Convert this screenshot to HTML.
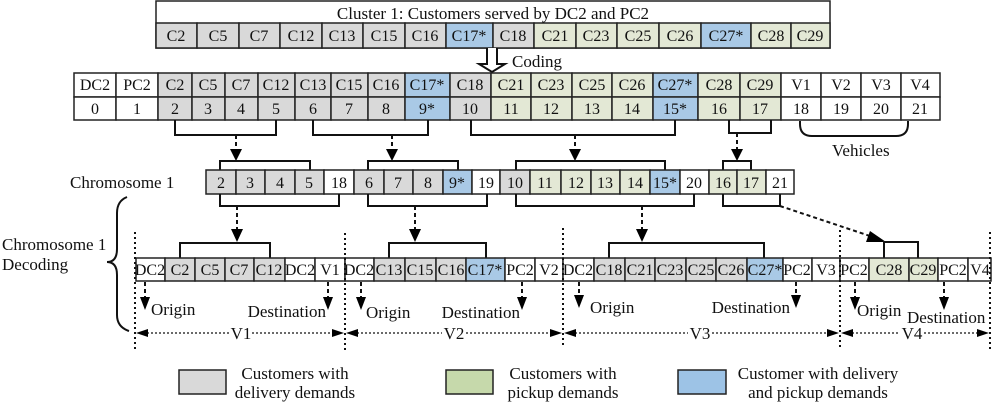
<!DOCTYPE html>
<html><head><meta charset="utf-8"><style>
html,body{margin:0;padding:0;background:#fff}
svg{display:block}
text{font-family:"Liberation Serif",serif;font-size:16px;fill:#111}
.c{text-anchor:middle}
.g{fill:#d9d9d9}.v{fill:#e3e8d5}.b{fill:#a9c9e6}.w{fill:#fff}
rect{stroke:#222;stroke-width:1.5}
.br{fill:none;stroke:#111;stroke-width:2}
.ds{stroke:#111;stroke-width:2;stroke-dasharray:4,3;fill:none}
.dt{stroke:#111;stroke-width:2;stroke-dasharray:2,3;fill:none}
.dm{stroke:#111;stroke-width:1.2;stroke-dasharray:2,2;fill:none}
.L{font-size:17px}
</style></head><body>
<svg width="992" height="406" viewBox="0 0 992 406" xmlns="http://www.w3.org/2000/svg">
<!-- top box -->
<rect class="w" x="156" y="1" width="674" height="47"/>
<text class="c L" x="493" y="19">Cluster 1: Customers served by DC2 and PC2</text>
<g>
<rect class="g" x="156" y="23" width="41" height="25"/><text class="c" x="176" y="41">C2</text>
<rect class="g" x="197" y="23" width="42" height="25"/><text class="c" x="218" y="41">C5</text>
<rect class="g" x="239" y="23" width="41" height="25"/><text class="c" x="259" y="41">C7</text>
<rect class="g" x="280" y="23" width="42" height="25"/><text class="c" x="301" y="41">C12</text>
<rect class="g" x="322" y="23" width="41" height="25"/><text class="c" x="342" y="41">C13</text>
<rect class="g" x="363" y="23" width="42" height="25"/><text class="c" x="384" y="41">C15</text>
<rect class="g" x="405" y="23" width="41" height="25"/><text class="c" x="425" y="41">C16</text>
<rect class="b" x="446" y="23" width="47" height="25"/><text class="c" x="469" y="41">C17*</text>
<rect class="g" x="493" y="23" width="41" height="25"/><text class="c" x="513" y="41">C18</text>
<rect class="v" x="534" y="23" width="42" height="25"/><text class="c" x="555" y="41">C21</text>
<rect class="v" x="576" y="23" width="41" height="25"/><text class="c" x="596" y="41">C23</text>
<rect class="v" x="617" y="23" width="42" height="25"/><text class="c" x="638" y="41">C25</text>
<rect class="v" x="659" y="23" width="42" height="25"/><text class="c" x="680" y="41">C26</text>
<rect class="b" x="701" y="23" width="50" height="25"/><text class="c" x="726" y="41">C27*</text>
<rect class="v" x="751" y="23" width="40" height="25"/><text class="c" x="771" y="41">C28</text>
<rect class="v" x="791" y="23" width="39" height="25"/><text class="c" x="810" y="41">C29</text>
</g>
<!-- open arrow -->
<path d="M487,48V64H479L492,72L505,64H497V48" fill="#fff" stroke="#111" stroke-width="2"/>
<text x="512" y="67" class="L">Coding</text>
<!-- row 2 -->
<g>
<rect class="w" x="74" y="73" width="42" height="24"/><text class="c" x="95" y="90">DC2</text>
<rect class="w" x="116" y="73" width="42" height="24"/><text class="c" x="137" y="90">PC2</text>
<rect class="g" x="158" y="73" width="34" height="24"/><text class="c" x="175" y="90">C2</text>
<rect class="g" x="192" y="73" width="33" height="24"/><text class="c" x="208" y="90">C5</text>
<rect class="g" x="225" y="73" width="33" height="24"/><text class="c" x="241" y="90">C7</text>
<rect class="g" x="258" y="73" width="37" height="24"/><text class="c" x="276" y="90">C12</text>
<rect class="g" x="295" y="73" width="36" height="24"/><text class="c" x="313" y="90">C13</text>
<rect class="g" x="331" y="73" width="37" height="24"/><text class="c" x="349" y="90">C15</text>
<rect class="g" x="368" y="73" width="37" height="24"/><text class="c" x="386" y="90">C16</text>
<rect class="b" x="405" y="73" width="45" height="24"/><text class="c" x="427" y="90">C17*</text>
<rect class="g" x="450" y="73" width="41" height="24"/><text class="c" x="470" y="90">C18</text>
<rect class="v" x="491" y="73" width="40" height="24"/><text class="c" x="511" y="90">C21</text>
<rect class="v" x="531" y="73" width="41" height="24"/><text class="c" x="551" y="90">C23</text>
<rect class="v" x="572" y="73" width="40" height="24"/><text class="c" x="592" y="90">C25</text>
<rect class="v" x="612" y="73" width="41" height="24"/><text class="c" x="632" y="90">C26</text>
<rect class="b" x="653" y="73" width="45" height="24"/><text class="c" x="675" y="90">C27*</text>
<rect class="v" x="698" y="73" width="42" height="24"/><text class="c" x="719" y="90">C28</text>
<rect class="v" x="740" y="73" width="41" height="24"/><text class="c" x="760" y="90">C29</text>
<rect class="w" x="781" y="73" width="40" height="24"/><text class="c" x="801" y="90">V1</text>
<rect class="w" x="821" y="73" width="40" height="24"/><text class="c" x="841" y="90">V2</text>
<rect class="w" x="861" y="73" width="40" height="24"/><text class="c" x="881" y="90">V3</text>
<rect class="w" x="901" y="73" width="39" height="24"/><text class="c" x="920" y="90">V4</text>

<rect class="w" x="74" y="97" width="42" height="23"/><text class="c" x="95" y="114">0</text>
<rect class="w" x="116" y="97" width="42" height="23"/><text class="c" x="137" y="114">1</text>
<rect class="g" x="158" y="97" width="34" height="23"/><text class="c" x="175" y="114">2</text>
<rect class="g" x="192" y="97" width="33" height="23"/><text class="c" x="208" y="114">3</text>
<rect class="g" x="225" y="97" width="33" height="23"/><text class="c" x="241" y="114">4</text>
<rect class="g" x="258" y="97" width="37" height="23"/><text class="c" x="276" y="114">5</text>
<rect class="g" x="295" y="97" width="36" height="23"/><text class="c" x="313" y="114">6</text>
<rect class="g" x="331" y="97" width="37" height="23"/><text class="c" x="349" y="114">7</text>
<rect class="g" x="368" y="97" width="37" height="23"/><text class="c" x="386" y="114">8</text>
<rect class="b" x="405" y="97" width="45" height="23"/><text class="c" x="427" y="114">9*</text>
<rect class="g" x="450" y="97" width="41" height="23"/><text class="c" x="470" y="114">10</text>
<rect class="v" x="491" y="97" width="40" height="23"/><text class="c" x="511" y="114">11</text>
<rect class="v" x="531" y="97" width="41" height="23"/><text class="c" x="551" y="114">12</text>
<rect class="v" x="572" y="97" width="40" height="23"/><text class="c" x="592" y="114">13</text>
<rect class="v" x="612" y="97" width="41" height="23"/><text class="c" x="632" y="114">14</text>
<rect class="b" x="653" y="97" width="45" height="23"/><text class="c" x="675" y="114">15*</text>
<rect class="v" x="698" y="97" width="42" height="23"/><text class="c" x="719" y="114">16</text>
<rect class="v" x="740" y="97" width="41" height="23"/><text class="c" x="760" y="114">17</text>
<rect class="w" x="781" y="97" width="40" height="23"/><text class="c" x="801" y="114">18</text>
<rect class="w" x="821" y="97" width="40" height="23"/><text class="c" x="841" y="114">19</text>
<rect class="w" x="861" y="97" width="40" height="23"/><text class="c" x="881" y="114">20</text>
<rect class="w" x="901" y="97" width="39" height="23"/><text class="c" x="920" y="114">21</text>
</g>
<path class="br" d="M800,121v3q0,12 12,12h84q12,0 12,-12v-3" stroke-width="1.5"/>
<text x="832" y="156" class="L">Vehicles</text>
<!-- brackets under row 2 -->
<path class="br" d="M175,120V135H276V120M313,120V135H428V120M471,120V135H675V120M729,120V133H771V120"/>
<line class="ds" x1="236" y1="135" x2="236" y2="150"/><path d="M230,149L242,149L236,161z"/>
<line class="ds" x1="392" y1="135" x2="392" y2="150"/><path d="M386,149L398,149L392,161z"/>
<line class="ds" x1="575" y1="135" x2="575" y2="150"/><path d="M569,149L581,149L575,161z"/>
<line class="ds" x1="737" y1="133" x2="737" y2="150"/><path d="M731,149L743,149L737,161z"/>
<!-- chromosome -->
<text x="70" y="188" class="L">Chromosome 1</text>
<path class="br" d="M220,170V161H310V170M368,170V161H458V170M516,170V161H665V170M723,170V161H751V170"/>
<g>
<rect class="g" x="206" y="170" width="30" height="24"/><text class="c" x="221" y="188">2</text>
<rect class="g" x="236" y="170" width="29" height="24"/><text class="c" x="250" y="188">3</text>
<rect class="g" x="265" y="170" width="30" height="24"/><text class="c" x="280" y="188">4</text>
<rect class="g" x="295" y="170" width="29" height="24"/><text class="c" x="309" y="188">5</text>
<rect class="w" x="324" y="170" width="30" height="24"/><text class="c" x="339" y="188">18</text>
<rect class="g" x="354" y="170" width="30" height="24"/><text class="c" x="369" y="188">6</text>
<rect class="g" x="384" y="170" width="29" height="24"/><text class="c" x="398" y="188">7</text>
<rect class="g" x="413" y="170" width="30" height="24"/><text class="c" x="428" y="188">8</text>
<rect class="b" x="443" y="170" width="29" height="24"/><text class="c" x="457" y="188">9*</text>
<rect class="w" x="472" y="170" width="28" height="24"/><text class="c" x="486" y="188">19</text>
<rect class="g" x="500" y="170" width="30" height="24"/><text class="c" x="515" y="188">10</text>
<rect class="v" x="530" y="170" width="31" height="24"/><text class="c" x="545" y="188">11</text>
<rect class="v" x="561" y="170" width="30" height="24"/><text class="c" x="576" y="188">12</text>
<rect class="v" x="591" y="170" width="29" height="24"/><text class="c" x="605" y="188">13</text>
<rect class="v" x="620" y="170" width="30" height="24"/><text class="c" x="635" y="188">14</text>
<rect class="b" x="650" y="170" width="30" height="24"/><text class="c" x="665" y="188">15*</text>
<rect class="w" x="680" y="170" width="29" height="24"/><text class="c" x="694" y="188">20</text>
<rect class="v" x="709" y="170" width="28" height="24"/><text class="c" x="723" y="188">16</text>
<rect class="v" x="737" y="170" width="29" height="24"/><text class="c" x="751" y="188">17</text>
<rect class="w" x="766" y="170" width="28" height="24"/><text class="c" x="780" y="188">21</text>
</g>
<path class="br" d="M220,194V206H339V194M368,194V206H487V194M516,194V206H694V194M723,194V206H780V194"/>
<line class="ds" x1="237" y1="206" x2="237" y2="230"/><path d="M231,229L243,229L237,242z"/>
<line class="ds" x1="415" y1="206" x2="415" y2="230"/><path d="M409,229L421,229L415,242z"/>
<line class="ds" x1="642" y1="206" x2="642" y2="230"/><path d="M636,229L648,229L642,242z"/>
<line class="ds" x1="780" y1="206" x2="873" y2="237"/><path d="M870,231L866,242L886,242z"/>
<!-- curly brace -->
<path class="br" d="M127,197q-10,4 -10,16v36q0,13 -10,13q10,0 10,13v40q0,12 12,16" stroke-width="1.8"/>
<text x="2" y="250" class="L">Chromosome 1</text>
<text x="2" y="270" class="L">Decoding</text>
<!-- decoding -->
<path class="br" d="M180,258V243H270V258M389,258V243H486V258M609,258V243H764V258M884,258V242H918V258"/>
<g style="font-size:15px">
<rect class="w" x="136" y="258" width="29" height="23"/><text class="c" x="150" y="275">DC2</text>
<rect class="g" x="165" y="258" width="30" height="23"/><text class="c" x="180" y="275">C2</text>
<rect class="g" x="195" y="258" width="30" height="23"/><text class="c" x="210" y="275">C5</text>
<rect class="g" x="225" y="258" width="29" height="23"/><text class="c" x="239" y="275">C7</text>
<rect class="g" x="254" y="258" width="31" height="23"/><text class="c" x="269" y="275">C12</text>
<rect class="w" x="285" y="258" width="30" height="23"/><text class="c" x="300" y="275">DC2</text>
<rect class="w" x="315" y="258" width="30" height="23"/><text class="c" x="330" y="275">V1</text>
<rect class="w" x="345" y="258" width="29" height="23"/><text class="c" x="359" y="275">DC2</text>
<rect class="g" x="374" y="258" width="31" height="23"/><text class="c" x="389" y="275">C13</text>
<rect class="g" x="405" y="258" width="31" height="23"/><text class="c" x="420" y="275">C15</text>
<rect class="g" x="436" y="258" width="30" height="23"/><text class="c" x="451" y="275">C16</text>
<rect class="b" x="466" y="258" width="39" height="23"/><text class="c" x="485" y="275">C17*</text>
<rect class="w" x="505" y="258" width="30" height="23"/><text class="c" x="520" y="275">PC2</text>
<rect class="w" x="535" y="258" width="28" height="23"/><text class="c" x="549" y="275">V2</text>
<rect class="w" x="563" y="258" width="31" height="23"/><text class="c" x="578" y="275">DC2</text>
<rect class="g" x="594" y="258" width="31" height="23"/><text class="c" x="609" y="275">C18</text>
<rect class="g" x="625" y="258" width="30" height="23"/><text class="c" x="640" y="275">C21</text>
<rect class="g" x="655" y="258" width="31" height="23"/><text class="c" x="670" y="275">C23</text>
<rect class="g" x="686" y="258" width="30" height="23"/><text class="c" x="701" y="275">C25</text>
<rect class="g" x="716" y="258" width="31" height="23"/><text class="c" x="731" y="275">C26</text>
<rect class="b" x="747" y="258" width="36" height="23"/><text class="c" x="765" y="275">C27*</text>
<rect class="w" x="783" y="258" width="29" height="23"/><text class="c" x="797" y="275">PC2</text>
<rect class="w" x="812" y="258" width="28" height="23"/><text class="c" x="826" y="275">V3</text>
<rect class="w" x="840" y="258" width="29" height="23"/><text class="c" x="854" y="275">PC2</text>
<rect class="v" x="869" y="258" width="40" height="23"/><text class="c" x="889" y="275">C28</text>
<rect class="v" x="909" y="258" width="29" height="23"/><text class="c" x="923" y="275">C29</text>
<rect class="w" x="938" y="258" width="30" height="23"/><text class="c" x="953" y="275">PC2</text>
<rect class="w" x="968" y="258" width="23" height="23"/><text class="c" x="980" y="275">V4</text>
</g>
<!-- vertical dotted lines -->
<line class="dt" x1="135" y1="232" x2="135" y2="350"/>
<line class="dt" x1="345" y1="233" x2="345" y2="350"/>
<line class="dt" x1="563" y1="228" x2="563" y2="347"/>
<line class="dt" x1="840" y1="230" x2="840" y2="350"/>
<line class="dt" x1="990" y1="232" x2="990" y2="350"/>
<!-- origin/destination arrows -->
<g>
<line class="ds" x1="145" y1="282" x2="145" y2="298"/><path d="M140,297L150,297L145,310z"/>
<line class="ds" x1="328" y1="282" x2="328" y2="298"/><path d="M323,297L333,297L328,310z"/>
<line class="ds" x1="361" y1="282" x2="361" y2="298"/><path d="M356,297L366,297L361,310z"/>
<line class="ds" x1="522" y1="282" x2="522" y2="298"/><path d="M517,297L527,297L522,310z"/>
<line class="ds" x1="579" y1="282" x2="579" y2="296"/><path d="M574,295L584,295L579,308z"/>
<line class="ds" x1="796" y1="282" x2="796" y2="296"/><path d="M791,295L801,295L796,308z"/>
<line class="ds" x1="855" y1="282" x2="855" y2="298"/><path d="M850,297L860,297L855,310z"/>
<line class="ds" x1="944" y1="282" x2="944" y2="298"/><path d="M939,297L949,297L944,310z"/>
</g>
<g>
<text x="151" y="315" class="L">Origin</text>
<text x="326" y="317" text-anchor="end" class="L">Destination</text>
<text x="366" y="318" class="L">Origin</text>
<text x="520" y="318" text-anchor="end" class="L">Destination</text>
<text x="590" y="313" class="L">Origin</text>
<text x="790" y="313" text-anchor="end" class="L">Destination</text>
<text x="857" y="316" class="L">Origin</text>
<text x="907" y="323" class="L">Destination</text>
</g>
<!-- dimension lines -->
<g>
<line class="dm" x1="147" y1="333" x2="230" y2="333"/><line class="dm" x1="252" y1="333" x2="333" y2="333"/>
<path d="M136,333L148,329L148,337z"/><path d="M344,333L332,329L332,337z"/>
<text class="c L" x="241" y="339">V1</text>
<line class="dm" x1="357" y1="333" x2="442" y2="333"/><line class="dm" x1="466" y1="333" x2="551" y2="333"/>
<path d="M346,333L358,329L358,337z"/><path d="M562,333L550,329L550,337z"/>
<text class="c L" x="454" y="339">V2</text>
<line class="dm" x1="575" y1="333" x2="688" y2="333"/><line class="dm" x1="712" y1="333" x2="828" y2="333"/>
<path d="M564,333L576,329L576,337z"/><path d="M839,333L827,329L827,337z"/>
<text class="c L" x="700" y="339">V3</text>
<line class="dm" x1="852" y1="333" x2="900" y2="333"/><line class="dm" x1="924" y1="333" x2="978" y2="333"/>
<path d="M841,333L853,329L853,337z"/><path d="M989,333L977,329L977,337z"/>
<text class="c L" x="912" y="339">V4</text>
</g>
<!-- legend -->
<rect x="179" y="370" width="47" height="24" fill="#d9d9d9"/>
<text class="c L" x="295" y="379">Customers with</text>
<text class="c L" x="295" y="398">delivery demands</text>
<rect x="446" y="370" width="47" height="24" fill="#c6d9ab"/>
<text class="c L" x="563" y="379">Customers with</text>
<text class="c L" x="563" y="398">pickup demands</text>
<rect x="678" y="370" width="48" height="24" fill="#9dc3e6"/>
<text class="c L" x="818" y="379">Customer with delivery</text>
<text class="c L" x="818" y="398">and pickup demands</text>
</svg>
</body></html>
